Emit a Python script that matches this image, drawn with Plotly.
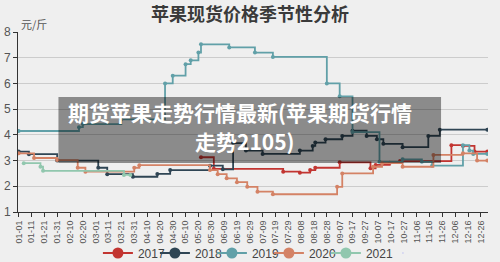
import plotly.graph_objects as go

# ---- data (day index in a leap year, price in 元/斤) ----
tick_labels = ["01-01", "01-11", "01-21", "01-31", "02-10", "02-20", "03-01", "03-11",
               "03-21", "03-31", "04-10", "04-20", "04-30", "05-10", "05-20", "05-30",
               "06-09", "06-19", "06-29", "07-09", "07-19", "07-29", "08-08", "08-18",
               "08-28", "09-07", "09-17", "09-27", "10-07", "10-17", "10-27", "11-06",
               "11-16", "11-26", "12-06", "12-16", "12-26"]

days_2017 = [142, 152, 206, 219, 227, 231, 250, 274, 278, 289, 297, 337, 346, 355, 365]
price_2017 = [3.13, 2.68, 2.57, 2.53, 2.63, 2.72, 2.93, 2.70, 2.83, 2.92, 2.98, 3.60, 3.57, 3.35, 3.35]

days_2018 = [0, 8, 30, 62, 69, 89, 108, 118, 149, 159, 167, 177, 190, 219, 229, 231, 239,
             252, 260, 271, 279, 284, 299, 319, 328, 365]
price_2018 = [3.35, 3.25, 3.0, 2.72, 2.47, 2.37, 2.48, 2.63, 2.8, 2.66, 3.68, 3.39, 3.26,
              3.39, 3.57, 3.7, 3.83, 3.96, 4.16, 3.96, 3.83, 3.65, 3.52, 3.96, 4.2, 4.2]

days_2019 = [0, 47, 50, 80, 114, 120, 130, 134, 140, 142, 164, 184, 198, 240, 250, 260,
             281, 299, 314, 322, 346, 351, 354, 365]
price_2019 = [4.15, 4.3, 4.42, 4.6, 6.0, 6.3, 6.75, 6.9, 7.2, 7.52, 7.4, 7.2, 7.03, 6.0,
              5.5, 4.11, 2.95, 3.05, 2.95, 2.8, 3.6, 3.39, 3.26, 3.26]

days_2020 = [0, 12, 30, 46, 52, 90, 94, 149, 155, 162, 170, 178, 186, 198, 248, 252, 276,
             283, 299, 323, 346, 357, 365]
price_2020 = [3.28, 3.1, 3.02, 2.72, 2.57, 2.72, 2.82, 2.63, 2.47, 2.31, 2.16, 1.98, 1.79,
              1.69, 1.98, 2.5, 2.76, 2.9, 2.76, 3.22, 3.28, 3.0, 3.0]

days_2021 = [4, 17, 19, 82, 87]
price_2021 = [2.9, 2.76, 2.6, 2.44, 2.44]

series = [
    ("2017", days_2017, price_2017, "#c23531"),
    ("2018", days_2018, price_2018, "#2f4554"),
    ("2019", days_2019, price_2019, "#61a0a8"),
    ("2020", days_2020, price_2020, "#d48265"),
    ("2021", days_2021, price_2021, "#91c7ae"),
]

FONT = "Noto Sans CJK SC"
LATIN = "Liberation Sans"
W, H = 500, 262
L, R, T, B = 17.5, 12, 32, 50
PW, PH = W - L - R, H - T - B


def px(x):
    return (x - L) / PW


def py(y):
    return (H - B - y) / PH


fig = go.Figure()
for name, d, p, c in series:
    fig.add_trace(go.Scatter(x=d, y=p, mode="lines+markers", line=dict(color=c, width=1.8, shape="hv"),
                             marker=dict(size=4, color=c), name=name, showlegend=False))
for name, d, p, c in series:
    fig.add_trace(go.Scatter(x=[None], y=[None], mode="lines+markers", line=dict(color=c, width=2),
                             marker=dict(size=11, color=c), name=name, showlegend=True))
# empty spacer entry so the last legend label is not clipped
fig.add_trace(go.Scatter(x=[None], y=[None], mode="markers", marker=dict(size=1, opacity=0),
                         name=" ", showlegend=True, hoverinfo="skip"))

fig.update_layout(
    width=W, height=H,
    margin=dict(l=L, r=R, t=T, b=B, autoexpand=False),
    paper_bgcolor="#efefef", plot_bgcolor="#efefef",
    font=dict(family=LATIN, color="#555555", size=11),
    title=dict(text="<b>苹果现货价格季节性分析</b>", x=0.5, xanchor="center", y=1 - 15 / H,
               yanchor="middle", font=dict(size=18, color="#3a3a3a", family=FONT)),
    xaxis=dict(range=[-0.5, 365.5], tickmode="array", tickvals=[10 * i for i in range(len(tick_labels))],
               ticktext=tick_labels, tickangle=-90, showgrid=False, zeroline=False,
               showline=True, linecolor="#333333", linewidth=1, ticks="outside", ticklen=4,
               tickcolor="#333333", tickfont=dict(size=9, color="#555555", family=LATIN)),
    yaxis=dict(range=[1, 8], dtick=1, showgrid=True, gridcolor="#cccccc", gridwidth=1,
               zeroline=False, showline=True, linecolor="#333333", linewidth=1,
               ticks="outside", ticklen=4, tickcolor="#333333",
               tickfont=dict(size=12, color="#555555", family=LATIN)),
    legend=dict(orientation="h", x=px(97.5), xanchor="left", y=py(253), yanchor="middle",
                font=dict(size=12, color="#444444", family=LATIN), bgcolor="rgba(0,0,0,0)",
                entrywidth=12, entrywidthmode="pixels", itemwidth=30),
    showlegend=True,
)

fig.add_annotation(text="元/斤", x=px(19), y=py(14), xref="paper", yref="paper",
                   showarrow=False, font=dict(size=11, color="#555555", family=FONT))

# overlay banner
fig.add_shape(type="rect", xref="paper", yref="paper", x0=px(58), x1=px(441), y0=py(163), y1=py(97),
              fillcolor="rgba(0,0,0,0.42)", line=dict(width=0), layer="above")
fig.add_annotation(text="<b>期货苹果走势行情最新(苹果期货行情</b>", x=px(240), y=py(112),
                   xref="paper", yref="paper", showarrow=False,
                   font=dict(size=21, color="white", family=FONT))
fig.add_annotation(text="<b>走势2105)</b>", x=px(245), y=py(141),
                   xref="paper", yref="paper", showarrow=False,
                   font=dict(size=21, color="white", family=FONT))

fig.write_html("out.html")
